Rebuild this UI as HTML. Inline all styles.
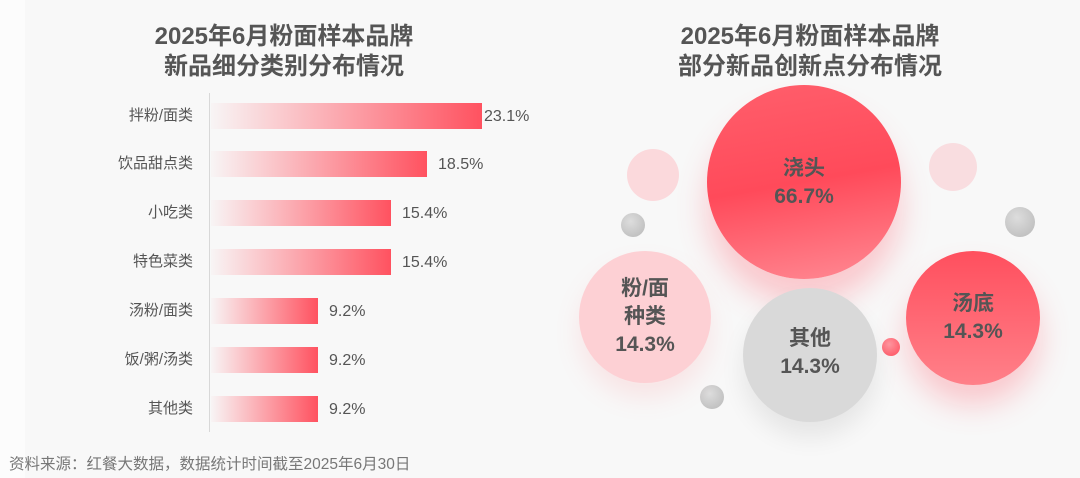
<!DOCTYPE html>
<html><head><meta charset="utf-8"><style>
*{margin:0;padding:0;box-sizing:border-box}
body{width:1080px;height:478px;background:#f8f8f8;font-family:"Liberation Sans","Noto Sans CJK SC",sans-serif;color:#555;position:relative;overflow:hidden}
.t{position:absolute;text-align:center;font-weight:bold;font-size:24px;line-height:30px;color:#555;width:400px}
.lab{position:absolute;right:887px;font-size:15px;color:#555;line-height:20px;white-space:nowrap}
.bar{position:absolute;left:211px;height:26px;background:linear-gradient(90deg,rgba(255,80,95,0.02),#ff5260)}
.val{position:absolute;font-size:16px;color:#555;line-height:20px}
.c{position:absolute;border-radius:50%}
.ct{position:absolute;text-align:center;font-weight:bold;font-size:21px;line-height:28px;color:#555;width:160px}
</style></head><body>
<div style="position:absolute;left:0;top:0;width:25px;height:478px;background:#fcfcfc"></div>
<div class="t" style="left:84px;top:22px">2025年6月粉面样本品牌<br>新品细分类别分布情况</div>
<div class="t" style="left:610px;top:22px">2025年6月粉面样本品牌<br>部分新品创新点分布情况</div>
<div style="position:absolute;left:209px;top:93px;width:1px;height:339px;background:#d8d8d8"></div>

<div class="lab" style="top:106px">拌粉/面类</div><div class="bar" style="top:103px;width:271px"></div><div class="val" style="left:484px;top:107px">23.1%</div>
<div class="lab" style="top:154px">饮品甜点类</div><div class="bar" style="top:151px;width:216px"></div><div class="val" style="left:438px;top:155px">18.5%</div>
<div class="lab" style="top:203px">小吃类</div><div class="bar" style="top:200px;width:180px"></div><div class="val" style="left:402px;top:204px">15.4%</div>
<div class="lab" style="top:252px">特色菜类</div><div class="bar" style="top:249px;width:180px"></div><div class="val" style="left:402px;top:253px">15.4%</div>
<div class="lab" style="top:301px">汤粉/面类</div><div class="bar" style="top:298px;width:107px"></div><div class="val" style="left:329px;top:302px">9.2%</div>
<div class="lab" style="top:350px">饭/粥/汤类</div><div class="bar" style="top:347px;width:107px"></div><div class="val" style="left:329px;top:351px">9.2%</div>
<div class="lab" style="top:399px">其他类</div><div class="bar" style="top:396px;width:107px"></div><div class="val" style="left:329px;top:400px">9.2%</div>

<div style="position:absolute;left:9px;top:455px;font-size:15.5px;color:#777;line-height:20px">资料来源：红餐大数据，数据统计时间截至2025年6月30日</div>

<div class="c" style="left:627px;top:149px;width:52px;height:52px;background:#fbd9dc"></div>
<div class="c" style="left:929px;top:143px;width:48px;height:48px;background:#f9dde0"></div>
<div class="c" style="left:621px;top:213px;width:24px;height:24px;background:radial-gradient(circle at 40% 35%,#ddd,#b8b8b8)"></div>
<div class="c" style="left:1005px;top:207px;width:30px;height:30px;background:radial-gradient(circle at 40% 35%,#ddd,#b8b8b8)"></div>
<div class="c" style="left:700px;top:385px;width:24px;height:24px;background:radial-gradient(circle at 40% 35%,#ddd,#b8b8b8)"></div>
<div class="c" style="left:882px;top:338px;width:18px;height:18px;background:radial-gradient(circle at 40% 35%,#ff9aa3,#ff4d5c)"></div>

<div class="c" style="left:707px;top:85px;width:194px;height:194px;background:linear-gradient(170deg,#ff5f6c,#ff4a5a 50%,#ff8a94);box-shadow:0 25px 30px rgba(255,90,105,0.3)"></div>
<div class="ct" style="left:724px;top:155px">浇头<br>66.7%</div>
<div class="c" style="left:579px;top:251px;width:132px;height:132px;background:#fdd0d4;box-shadow:0 15px 25px rgba(255,120,130,0.15)"></div>
<div class="ct" style="left:565px;top:275px">粉/面<br>种类<br>14.3%</div>
<div class="c" style="left:743px;top:288px;width:134px;height:134px;background:#d9d9d9;box-shadow:0 15px 25px rgba(0,0,0,0.08)"></div>
<div class="ct" style="left:730px;top:325px">其他<br>14.3%</div>
<div class="c" style="left:906px;top:251px;width:134px;height:134px;background:linear-gradient(180deg,#ff4f5e,#ff8089);box-shadow:0 20px 30px rgba(255,90,105,0.3)"></div>
<div class="ct" style="left:893px;top:290px">汤底<br>14.3%</div>
</body></html>
